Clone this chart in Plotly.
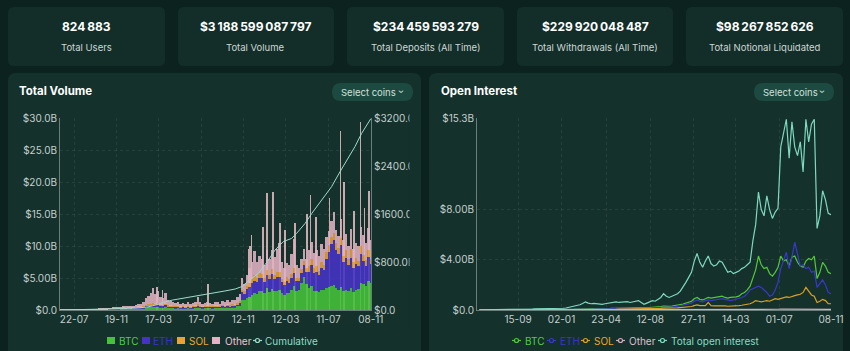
import pandas as pd
import plotly.graph_objects as go

# ---------------- data ----------------
card_values = ["824\u202f883", "$3\u202f188\u202f599\u202f087\u202f797", "$234\u202f459\u202f593\u202f279",
               "$229\u202f920\u202f048\u202f487", "$98\u202f267\u202f852\u202f626"]
card_labels = ["Total Users", "Total Volume", "Total Deposits (All Time)",
               "Total Withdrawals (All Time)", "Total Notional Liquidated"]

# weekly sampling of the daily series
weeks = pd.date_range(end="2025-11-08", periods=127, freq="7D")

vol_btc = [0.01,0.02,0.02,0.02,0.02,0.03,0.03,0.03,0.04,0.04,0.04,0.05,0.04,0.05,0.06,0.06,0.06,0.07,0.08,0.09,0.10,0.12,0.13,
           0.14,0.15,0.16,0.18,0.17,0.20,0.18,0.19,0.22,0.24,0.26,0.30,0.35,0.40,0.42,0.50,0.45,0.48,0.40,0.38,0.45,0.36,0.34,
           0.32,0.30,0.34,0.28,0.30,0.26,0.33,0.29,0.31,0.35,0.45,0.33,0.30,0.32,0.35,0.33,0.31,0.37,0.35,0.32,0.40,0.36,0.42,0.38,0.45,0.44,0.55,0.70,
           1.6,1.5,1.9,2.1,2.4,2.6,2.5,2.9,3.0,2.6,3.4,2.8,3.3,2.9,3.0,3.1,2.6,2.4,2.7,2.6,3.2,3.8,3.0,3.1,4.2,5.2,4.0,3.4,3.8,3.0,
           3.0,2.8,3.2,3.1,3.5,3.6,3.8,3.9,3.4,3.2,3.6,3.0,3.2,2.9,3.4,2.8,3.2,3.3,4.2,4.0,3.7,4.5,4.2]
vol_eth = [0.01,0.01,0.01,0.01,0.02,0.02,0.02,0.02,0.02,0.03,0.03,0.03,0.03,0.03,0.04,0.03,0.04,0.05,0.05,0.05,0.06,0.07,0.09,
           0.09,0.10,0.11,0.12,0.11,0.14,0.12,0.13,0.15,0.17,0.18,0.22,0.28,0.32,0.35,0.42,0.36,0.40,0.30,0.28,0.36,0.25,0.22,
           0.20,0.18,0.22,0.17,0.18,0.15,0.20,0.17,0.18,0.22,0.30,0.20,0.17,0.18,0.20,0.19,0.17,0.22,0.20,0.17,0.24,0.20,0.26,0.22,0.28,0.26,0.35,0.45,
           1.2,1.0,1.4,1.5,1.8,2.0,1.8,2.1,2.0,1.8,2.1,2.0,2.3,1.9,2.1,2.0,1.7,1.5,1.8,1.6,1.8,2.0,1.5,1.4,1.6,1.8,1.9,2.6,3.2,2.8,
           3.0,2.6,3.4,3.2,4.5,5.5,6.5,7.0,6.0,5.5,6.5,4.5,5.0,4.2,4.8,3.8,4.0,3.5,4.5,3.6,3.2,3.8,3.0]
vol_sol = [0,0,0,0,0,0,0,0,0,0,0,0,0,0,0,0,0.01,0.01,0.01,0.01,0.01,0.02,0.02,
           0.02,0.02,0.03,0.03,0.03,0.04,0.03,0.04,0.05,0.06,0.07,0.09,0.12,0.15,0.18,0.22,0.17,0.20,0.14,0.12,0.18,0.11,0.10,
           0.08,0.07,0.09,0.07,0.08,0.06,0.09,0.07,0.08,0.10,0.15,0.09,0.07,0.08,0.09,0.09,0.08,0.11,0.10,0.08,0.12,0.10,0.13,0.11,0.14,0.13,0.18,0.22,
           0.4,0.4,0.5,0.6,0.7,0.8,0.7,0.8,0.7,0.6,0.8,0.7,0.8,0.7,0.8,0.9,0.6,0.5,0.6,0.6,0.7,0.8,0.5,0.5,0.6,0.6,0.6,0.8,0.9,0.8,
           0.8,0.7,0.9,0.8,1.0,1.0,1.1,1.2,1.0,1.0,1.1,0.9,1.1,0.9,1.3,0.9,1.0,0.9,1.3,1.0,0.9,1.0,0.8]
vol_other = [0.01,0.01,0.02,0.02,0.02,0.03,0.02,0.03,0.03,0.03,0.03,0.04,0.04,0.05,0.05,0.05,0.05,0.05,0.06,0.07,0.08,0.09,0.11,
             0.15,0.18,0.20,0.27,0.24,0.32,0.27,0.29,0.38,0.43,0.49,0.69,1.05,1.33,1.65,2.26,1.52,1.92,1.16,1.02,1.71,0.88,0.74,
             0.60,0.55,0.65,0.48,0.54,0.43,0.58,0.47,0.53,0.63,1.10,0.58,0.46,0.52,0.60,0.49,0.44,0.60,0.55,0.43,0.64,0.54,0.69,0.59,0.73,0.67,0.92,1.13,
             1.8,1.1,1.7,2.3,2.6,3.8,2.5,2.6,2.3,2.0,3.0,2.4,3.0,2.8,3.6,4.5,2.6,2.1,2.3,2.2,3.0,4.5,2.0,1.5,1.6,1.9,1.5,2.6,2.8,2.3,
             2.6,2.4,2.8,2.4,2.4,2.3,2.5,3.2,2.1,1.9,3.0,2.6,2.6,2.0,3.2,2.0,2.2,2.3,3.0,3.1,2.7,3.5,3.0]

# single-day volume spikes visible as thin lines above the mass
spike_dates = ["2024-03-13","2024-03-28","2024-08-05","2024-11-27","2024-12-02","2024-12-05","2025-01-07",
               "2025-01-19","2025-02-03","2025-02-24","2025-03-10","2025-04-07","2025-05-12","2025-05-21",
               "2025-06-05","2025-07-14","2025-08-14","2025-08-25","2025-09-22","2025-10-10","2025-10-21","2025-11-03"]
spike_values = [3.6, 3.1, 4.0, 9.5, 10.0, 11.7, 13.0,
                18.3, 18.4, 13.6, 12.5, 13.6, 15.0, 18.0,
                14.5, 17.5, 28.0, 20.0, 15.5, 29.4, 16.0, 18.6]

cum_dates = ["2023-06-12","2023-08-01","2023-10-01","2023-12-01","2024-01-20","2024-02-15","2024-03-10",
             "2024-04-01","2024-04-25","2024-06-01","2024-07-15","2024-08-20","2024-09-21","2024-10-20",
             "2024-11-07","2024-12-06","2024-12-25","2025-01-22","2025-02-10","2025-03-05","2025-03-29",
             "2025-04-12","2025-05-06","2025-05-25","2025-06-22","2025-07-20","2025-08-13","2025-09-01",
             "2025-09-24","2025-10-13","2025-11-08"]
cum_values = [0,3,10,22,35,50,85,130,165,200,245,285,317,350,389,528,611,833,1000,1139,1194,
              1278,1444,1611,1833,2056,2306,2500,2722,2944,3189]

oi_total = [0.02,0.02,0.03,0.03,0.03,0.04,0.04,0.04,0.05,0.05,0.05,0.06,0.06,0.06,0.07,0.07,0.07,0.08,0.08,0.08,0.09,0.09,0.09,0.10,0.10,0.10,0.11,0.11,0.12,
            0.13,0.14,0.16,0.20,0.25,0.30,0.35,0.42,0.52,0.65,
            0.55,0.50,0.52,0.48,0.45,0.45,0.50,0.55,0.60,0.62,0.65,0.60,0.62,0.65,0.66,0.60,0.65,0.70,0.75,0.60,0.45,
            0.55,0.62,0.75,0.70,0.85,1.00,1.30,1.10,1.00,1.10,1.25,1.30,1.50,1.80,2.20,
            2.6,3.0,3.9,4.5,3.8,3.4,3.9,4.3,3.7,3.5,3.6,3.9,3.8,3.4,3.0,3.1,2.9,3.0,3.1,3.3,3.4,3.6,3.8,5.5,6.8,9.4,
            8.0,7.5,9.1,8.0,7.3,7.8,8.1,13.0,14.2,15.2,12.1,15.0,13.0,12.3,13.4,11.0,15.2,13.4,14.8,15.2,6.5,7.5,9.5,8.8,7.7,7.6]
oi_btc = [0.01,0.01,0.01,0.01,0.01,0.01,0.01,0.02,0.02,0.02,0.02,0.02,0.02,0.02,0.02,0.03,0.03,0.03,0.03,0.03,0.03,0.03,0.04,0.04,0.04,0.04,0.04,0.05,0.05,
          0.05,0.05,0.06,0.06,0.07,0.07,0.08,0.08,0.09,0.10,
          0.10,0.10,0.11,0.11,0.11,0.12,0.12,0.13,0.13,0.14,0.14,0.14,0.15,0.15,0.16,0.16,0.17,0.17,0.18,0.17,0.16,
          0.18,0.20,0.22,0.22,0.25,0.28,0.32,0.30,0.30,0.32,0.35,0.38,0.42,0.48,0.55,
          0.6,0.7,0.9,1.0,0.85,0.8,0.9,1.0,0.95,1.0,1.05,1.1,1.1,1.0,0.95,1.0,1.0,1.05,1.1,1.3,1.4,1.6,1.9,2.6,3.2,4.3,
          3.6,3.3,3.4,2.9,2.7,3.0,3.4,4.3,3.9,4.0,3.5,4.2,4.3,3.8,3.5,3.4,3.9,4.1,4.0,4.3,2.5,3.0,3.8,3.5,3.0,2.9]
oi_eth = [0.01,0.01,0.01,0.01,0.01,0.01,0.01,0.01,0.01,0.01,0.01,0.01,0.02,0.02,0.02,0.02,0.02,0.02,0.02,0.02,0.02,0.02,0.03,0.03,0.03,0.03,0.03,0.03,0.03,
          0.03,0.04,0.04,0.04,0.05,0.05,0.05,0.06,0.06,0.07,
          0.07,0.07,0.07,0.08,0.08,0.08,0.08,0.09,0.09,0.09,0.10,0.10,0.10,0.10,0.11,0.11,0.11,0.12,0.12,0.11,0.10,
          0.12,0.13,0.15,0.15,0.17,0.19,0.22,0.21,0.20,0.22,0.25,0.28,0.32,0.38,0.45,
          0.5,0.55,0.7,0.8,0.7,0.65,0.75,0.8,0.75,0.8,0.85,0.9,0.9,0.85,0.8,0.75,0.8,0.85,0.9,1.0,1.1,1.3,1.6,1.7,1.8,1.9,
          1.8,1.6,1.4,1.1,1.2,1.6,2.2,3.3,4.0,4.6,3.3,4.2,5.4,4.5,3.5,3.6,3.3,3.4,3.0,3.1,1.8,2.1,2.4,2.0,1.4,1.3]
oi_sol = [0,0,0,0,0,0,0,0,0,0,0,0,0,0,0,0.01,0.01,0.01,0.01,0.01,0.01,0.01,0.01,0.01,0.01,0.01,0.01,0.01,0.01,
          0.01,0.01,0.01,0.02,0.02,0.02,0.03,0.03,0.03,0.04,
          0.04,0.04,0.04,0.05,0.05,0.05,0.05,0.06,0.06,0.06,0.06,0.07,0.07,0.07,0.08,0.08,0.08,0.09,0.09,0.08,0.08,
          0.09,0.10,0.11,0.11,0.12,0.13,0.15,0.14,0.14,0.15,0.16,0.17,0.19,0.21,0.23,
          0.25,0.28,0.35,0.4,0.35,0.33,0.35,0.6,0.34,0.33,0.34,0.36,0.35,0.33,0.3,0.3,0.32,0.33,0.35,0.38,0.42,0.45,0.5,0.6,0.75,0.7,
          0.65,0.7,0.75,0.7,0.8,0.9,0.85,0.9,1.0,1.05,1.0,1.1,1.15,1.2,1.25,1.4,1.8,1.5,1.2,1.1,0.6,0.7,0.85,0.75,0.5,0.5]
oi_other = [0,0,0,0,0,0,0,0,0,0,0,0,0,0,0,0,0,0,0,0,0,0,0,0,0,0,0,0,0,
            0,0,0,0,0,0,0.01,0.01,0.01,0.01,
            0.01,0.01,0.01,0.01,0.01,0.01,0.01,0.01,0.01,0.01,0.01,0.01,0.01,0.01,0.01,0.01,0.01,0.01,0.01,0.01,0.01,
            0.01,0.01,0.02,0.02,0.02,0.02,0.02,0.02,0.02,0.02,0.02,0.02,0.03,0.03,0.03,
            0.03,0.03,0.04,0.04,0.04,0.04,0.04,0.04,0.04,0.04,0.04,0.04,0.04,0.04,0.04,0.04,0.04,0.04,0.04,0.04,0.04,0.05,0.05,0.05,0.06,0.06,
            0.06,0.06,0.06,0.06,0.06,0.06,0.06,0.07,0.07,0.07,0.07,0.07,0.07,0.07,0.07,0.07,0.07,0.07,0.07,0.07,0.05,0.05,0.05,0.05,0.05,0.05]

vol_tick_dates = ["2023-07-22","2023-11-19","2024-03-17","2024-07-17","2024-11-12","2025-03-12","2025-07-11","2025-11-08"]
vol_tick_labels = ["22-07","19-11","17-03","17-07","12-11","12-03","11-07","08-11"]
vol_y_ticks = [0, 5, 10, 15, 20, 25, 30]
vol_y_labels = ["$0.0", "$5.00B", "$10.0B", "$15.0B", "$20.0B", "$25.0B", "$30.0B"]
cum_y_ticks = [0, 800, 1600, 2400, 3200]
cum_y_labels = ["$0.0", "$800.0B", "$1600.0B", "$2400.0B", "$3200.0B"]

oi_tick_dates = ["2023-09-15","2024-01-02","2024-04-23","2024-08-12","2024-11-27","2025-03-14","2025-07-01","2025-11-08"]
oi_tick_labels = ["15-09","02-01","23-04","12-08","27-11","14-03","01-07","08-11"]
oi_y_ticks = [0, 4, 8, 15.3]
oi_y_labels = ["$0.0", "$4.00B", "$8.00B", "$15.3B"]

for arr in (vol_btc, vol_eth, vol_sol, vol_other, oi_total, oi_btc, oi_eth, oi_sol, oi_other):
    assert len(arr) == len(weeks), len(arr)

# ---------------- style ----------------
W, H = 850, 351
BG = "#0c221f"
CARD = "#132d29"
PANEL = "#14312c"
BTN = "#1d4a40"
TICK = "#c5d0cc"
GRID = "rgba(255,255,255,0.08)"
AXLINE = "rgba(210,225,218,0.45)"
FONT = "Inter"
DAY_MS = 86400000

C_BTC, C_ETH, C_SOL, C_OTH = "#45c23a", "#4533c6", "#eba233", "#e3b2c3"
C_SPIKE = "#dcb7bb"
C_CUM = "#9fdccb"
L_BTC, L_ETH, L_SOL, L_OTH, L_TOT = "#55c93a", "#3a38cc", "#dca024", "#d0b0bf", "#7fd9bf"


def X(px):
    return px / W


def Y(py):
    return 1 - py / H


def rrect(x0, y0, x1, y1, r, color, layer="below"):
    rx, ry = r / W, r / H
    a, b, c, d = X(x0), Y(y0), X(x1), Y(y1)
    path = (f"M{a+rx},{b} L{c-rx},{b} Q{c},{b} {c},{b-ry} L{c},{d+ry} Q{c},{d} {c-rx},{d} "
            f"L{a+rx},{d} Q{a},{d} {a},{d+ry} L{a},{b-ry} Q{a},{b} {a+rx},{b} Z")
    return dict(type="path", path=path, xref="paper", yref="paper", fillcolor=color,
                line=dict(width=0), layer=layer)


fig = go.Figure()

# thin daily spikes first (drawn beneath the stacked mass)
fig.add_trace(go.Bar(x=spike_dates, y=spike_values, name="Daily peak", width=2.2 * DAY_MS,
                     marker=dict(color=C_SPIKE, line=dict(width=0)), opacity=0.9,
                     xaxis="x", yaxis="y", showlegend=False))
# stacked volume bars
for name, vals, col in [("BTC", vol_btc, C_BTC), ("ETH", vol_eth, C_ETH),
                        ("SOL", vol_sol, C_SOL), ("Other", vol_other, C_OTH)]:
    fig.add_trace(go.Bar(x=weeks, y=vals, name=name, width=7 * DAY_MS,
                         marker=dict(color=col, line=dict(width=0)), opacity=0.88,
                         xaxis="x", yaxis="y", showlegend=False))
fig.add_trace(go.Scatter(x=cum_dates, y=cum_values, name="Cumulative", mode="lines",
                         line=dict(color=C_CUM, width=1.0), xaxis="x", yaxis="y2", showlegend=False))

# open interest lines
for name, vals, col in [("BTC", oi_btc, L_BTC), ("ETH", oi_eth, L_ETH), ("SOL", oi_sol, L_SOL),
                        ("Other", oi_other, L_OTH), ("Total open interest", oi_total, L_TOT)]:
    fig.add_trace(go.Scatter(x=weeks, y=vals, name=name, mode="lines", line=dict(color=col, width=1.2),
                             xaxis="x2", yaxis="y3", showlegend=False))

axis_common = dict(showgrid=True, gridcolor=GRID, griddash="3px,3px", gridwidth=1, zeroline=False,
                   showline=True, linecolor=AXLINE, linewidth=1, ticks="", automargin=False,
                   tickfont=dict(family=FONT, size=10, color=TICK))

shapes = []
card_x = [(8, 165), (178, 334), (347, 504), (517, 673), (686, 843)]
for (a, b) in card_x:
    shapes.append(rrect(a, 7, b, 66, 6, CARD))
shapes.append(rrect(8, 73, 421, 372, 8, PANEL))
shapes.append(rrect(429, 73, 843, 372, 8, PANEL))
shapes.append(rrect(332, 83, 413, 101, 9, BTN))
shapes.append(rrect(754, 83, 834, 101, 9, BTN))
# clip of the right-axis labels of the volume chart
shapes.append(dict(type="rect", xref="paper", yref="paper", x0=X(409.5), x1=X(421), y0=Y(330), y1=Y(106),
                   fillcolor=PANEL, line=dict(width=0), layer="above"))

annotations = []
for (a, b), v, lab in zip(card_x, card_values, card_labels):
    cx = (a + b) / 2
    annotations.append(dict(x=X(cx), y=Y(27), xref="paper", yref="paper", text=v, showarrow=False,
                            xanchor="center", yanchor="middle",
                            font=dict(family=FONT, size=12, color="#ffffff", weight="bold")))
    annotations.append(dict(x=X(cx), y=Y(47.5), xref="paper", yref="paper", text=lab, showarrow=False,
                            xanchor="center", yanchor="middle",
                            font=dict(family=FONT, size=9.5, color="#cdd8d4")))

for tx, t in [(17, "Total Volume"), (439, "Open Interest")]:
    annotations.append(dict(x=X(tx), y=Y(91), xref="paper", yref="paper", text=t, showarrow=False,
                            xanchor="left", yanchor="middle",
                            font=dict(family=FONT, size=11.5, color="#ffffff", weight="bold")))
for bx, cx in [(339, 402), (761, 823)]:
    annotations.append(dict(x=X(bx), y=Y(92), xref="paper", yref="paper", text="Select coins", showarrow=False,
                            xanchor="left", yanchor="middle",
                            font=dict(family=FONT, size=9.5, color="#cfe2db")))
    annotations.append(dict(x=X(cx), y=Y(92), xref="paper", yref="paper", text="\u203a", showarrow=False,
                            xanchor="center", yanchor="middle", textangle=90,
                            font=dict(family=FONT, size=9, color="#cfe2db")))

# compact legends
LY = 340.5
left_items = [("sq", 107, 117, "BTC", C_BTC, "#4fd03f"), ("sq", 142, 151, "ETH", C_ETH, "#3b32d8"),
              ("sq", 177, 187, "SOL", C_SOL, "#f2a62c"), ("sq", 212, 223, "Other", C_OTH, "#efc3d2"),
              ("ln", 253, 263, "Cumulative", C_CUM, "#8fdcc6")]
right_items = [("ln", 512, 523, "BTC", L_BTC, "#4fd03f"), ("ln", 547, 558, "ETH", L_ETH, "#3b32d8"),
               ("ln", 581, 592, "SOL", L_SOL, "#f0a52a"), ("ln", 616, 627, "Other", L_OTH, "#dcc0cc"),
               ("ln", 658, 669, "Total open interest", L_TOT, "#86dcc4")]
for kind, sx, tx, label, col, tcol in left_items + right_items:
    if kind == "sq":
        shapes.append(dict(type="rect", xref="paper", yref="paper", x0=X(sx), x1=X(sx + 8),
                           y0=Y(LY + 3.5), y1=Y(LY - 3.5), fillcolor=col, line=dict(width=0)))
    else:
        shapes.append(dict(type="line", xref="paper", yref="paper", x0=X(sx), x1=X(sx + 9),
                           y0=Y(LY), y1=Y(LY), line=dict(color=col, width=1.2)))
        shapes.append(dict(type="circle", xref="paper", yref="paper", x0=X(sx + 2.5), x1=X(sx + 6.5),
                           y0=Y(LY + 2), y1=Y(LY - 2), fillcolor=PANEL, line=dict(color=col, width=1.2)))
    annotations.append(dict(x=X(tx), y=Y(LY), xref="paper", yref="paper", text=label, showarrow=False,
                            xanchor="left", yanchor="middle", font=dict(family=FONT, size=10, color=tcol)))

fig.update_layout(
    width=W, height=H, margin=dict(l=0, r=0, t=0, b=0, pad=0, autoexpand=False),
    paper_bgcolor=BG, plot_bgcolor="rgba(0,0,0,0)",
    barmode="stack", bargap=0, showlegend=False,
    font=dict(family=FONT, size=10, color=TICK),
    xaxis=dict(domain=[X(60), X(371)], anchor="y", type="date",
               range=["2023-06-12", "2025-11-08 12:00"],
               tickvals=vol_tick_dates, ticktext=vol_tick_labels, **axis_common),
    yaxis=dict(domain=[Y(310), Y(118)], anchor="x", range=[0, 30],
               tickvals=vol_y_ticks, ticktext=vol_y_labels, **axis_common),
    yaxis2=dict(overlaying="y", anchor="x", side="right", range=[0, 3200],
                tickvals=cum_y_ticks, ticktext=cum_y_labels, showgrid=False, zeroline=False,
                showline=True, linecolor=AXLINE, linewidth=1, ticks="", automargin=False,
                tickfont=dict(family=FONT, size=10, color=TICK)),
    xaxis2=dict(domain=[X(477), X(831)], anchor="y3", type="date",
                range=["2023-06-04", "2025-11-08"],
                tickvals=oi_tick_dates, ticktext=oi_tick_labels, **axis_common),
    yaxis3=dict(domain=[Y(310), Y(118)], anchor="x2", range=[0, 15.3],
                tickvals=oi_y_ticks, ticktext=oi_y_labels, **axis_common),
    shapes=shapes, annotations=annotations,
)

fig.write_html("out.html")
